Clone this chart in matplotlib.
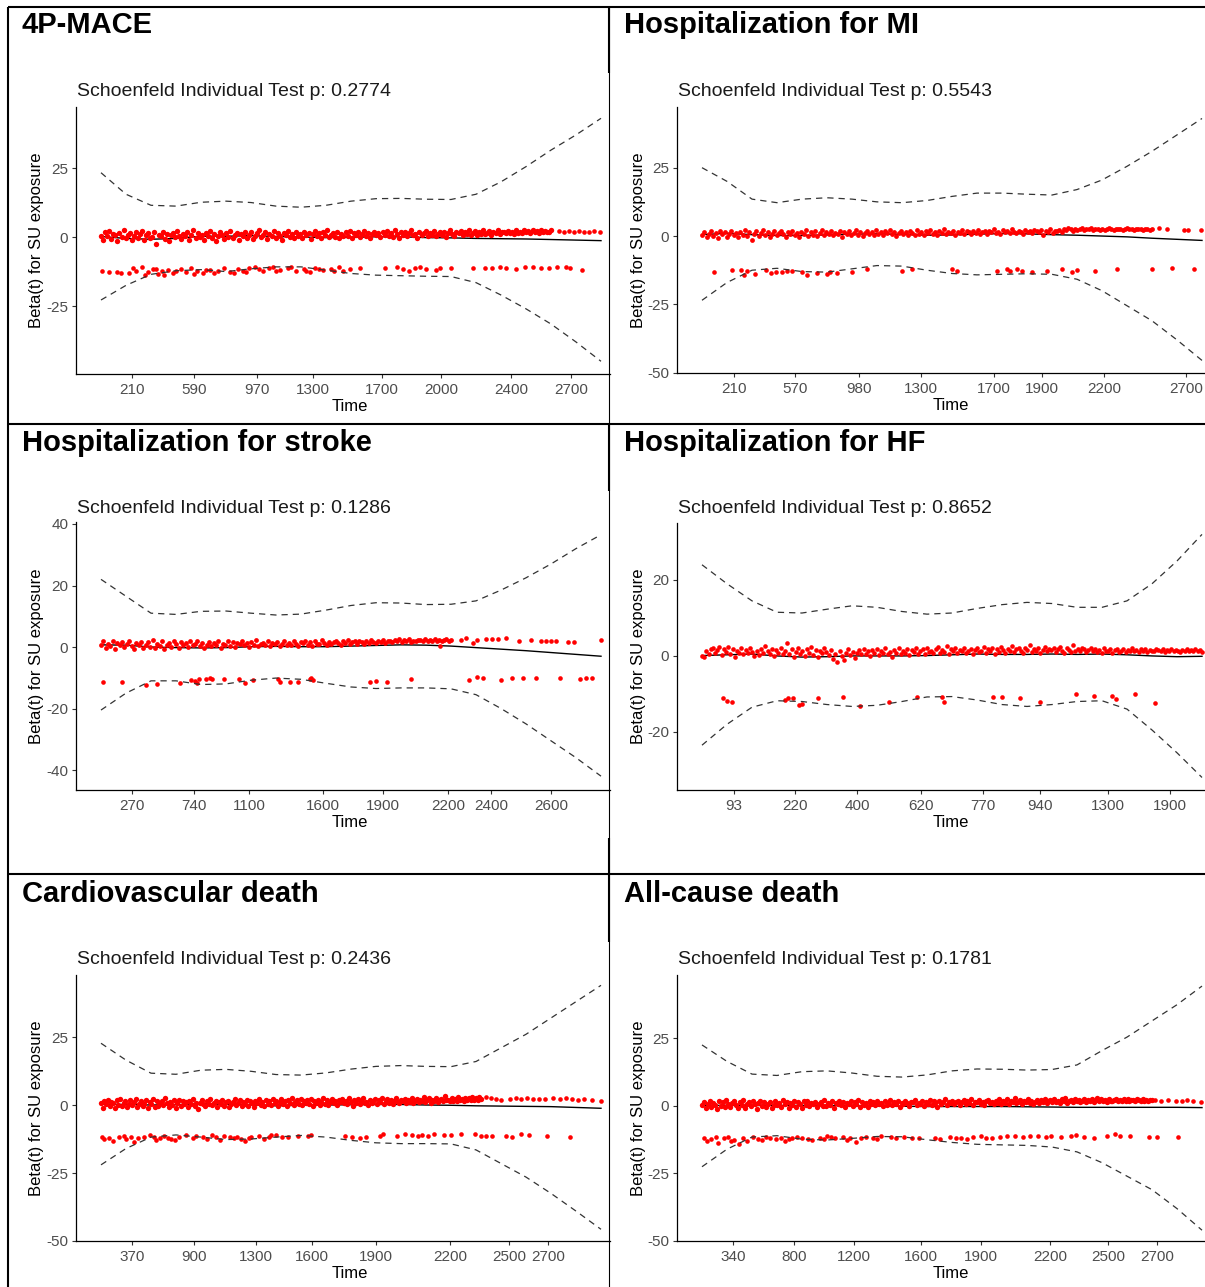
import numpy as np
import matplotlib
matplotlib.use("Agg")
import matplotlib.pyplot as plt

plt.rcParams['font.family'] = ['Liberation Sans', 'DejaVu Sans']
plt.rcParams['axes.unicode_minus'] = False

W, H = 1205, 1287


def vals(s):
    return np.array(s.split(), dtype=float)


# ---------------- data ----------------
titles = ["4P-MACE", "Hospitalization for MI", "Hospitalization for stroke",
          "Hospitalization for HF", "Cardiovascular death", "All-cause death"]
p_values = ["0.2774", "0.5543", "0.1286", "0.8652", "0.2436", "0.1781"]

# transformed time where the spline fit / CI were read (0 = first event, 1 = last)
curve_t = np.linspace(0, 1, 21)

# 4P-MACE
p1_fit = vals("0.2 -0.5 -0.8 -0.5 0.3 0.3 0.5 0.2 0.0 -0.2 -0.1 0.1 0.1 -0.2 -0.3 -0.5 -0.6 -0.7 -0.9 -1.1 -1.3")
p1_hi = vals("23.3 15.5 11.5 11.2 12.6 13.0 12.5 11.2 10.8 11.5 13.0 13.9 14.0 13.7 13.6 15.5 20.0 25.5 31.5 37.0 43.0")
p1_lo = vals("-22.8 -17.5 -13.5 -12.2 -11.8 -12.5 -11.5 -10.8 -10.8 -12.0 -13.2 -13.8 -14.0 -14.2 -14.3 -16.5 -21.0 -26.0 -31.5 -38.0 -45.0")
p1_up = vals("""
0.4 -1.2 1.8 0.2 2.1 -0.6 1.1 0.9 -1.5 1.6 0.0 2.4 -0.3 0.8 1.3 -0.9 0.5 1.9 -0.2 1.0
2.2 -1.0 0.6 1.4 -0.4 0.1 1.7 -2.5 0.9 0.3 2.0 -0.7 1.2 -1.3 0.7 1.5 -0.1 2.3 0.4 -0.8
1.1 0.2 1.8 -1.1 0.6 2.5 -0.5 1.3 0.0 0.9 -0.9 1.6 0.3 2.1 -0.3 1.0 -1.4 0.5 1.9 0.8
-0.6 1.4 0.1 2.2 -0.2 0.7 1.5 -1.0 1.2 0.4 2.0 -0.4 0.9 1.7 -0.8 0.2 1.3 2.4 -0.1 0.6
1.8 -0.7 1.0 0.3 2.1 -0.3 1.4 0.5 -1.2 1.6 0.8 2.3 0.0 1.1 -0.5 1.9 0.4 1.2 -0.2 2.0
0.7 1.5 -0.6 1.0 2.2 0.2 1.3 -0.4 1.8 0.6 2.5 -0.1 0.9 1.6 0.1 2.0 -0.3 1.2 0.5 1.7
0.3 2.1 -0.5 1.4 0.8 1.9 0.0 1.1 2.3 0.4 1.6 -0.2 1.0 2.0 0.6 1.3 -0.1 1.8 0.9 2.2
0.5 1.5 0.1 2.4 1.0 -0.3 1.7 0.7 2.0 0.2 1.3 2.6 0.8 1.1 -0.2 1.9 0.6 1.4 2.1 0.4
1.6 0.9 2.3 0.3 1.2 2.0 0.7 1.8 0.1 1.5 2.5 1.0 0.5 1.9 1.3 2.2 0.6 1.7 1.1 2.4
0.8 1.4 2.1 0.9 1.8 1.2 2.6 1.0 1.6 2.2 0.7 1.9 1.3 2.4 1.1 1.7 2.0 1.4 2.3 1.6
1.9 1.2 2.5 1.5 2.0 1.3 2.7 1.7 2.1 1.4 2.4 1.8 2.2 1.6 2.6 1.9 2.3 1.7 2.0 2.4
""")
p1_up_end = 0.9
p1_tail_t = vals("0.915 0.925 0.935 0.945 0.955 0.965 0.975 0.985 0.998")
p1_tail_y = vals("2.1 1.8 2.2 1.9 2.3 2.0 1.7 2.1 1.9")
p1_low_t = vals("""
0.002 0.016 0.031 0.055 0.063 0.07 0.082 0.094 0.103 0.113 0.121 0.133 0.144 0.16 0.17 0.179
0.191 0.203 0.218 0.234 0.245 0.257 0.273 0.284 0.296 0.308 0.323 0.335 0.343 0.358 0.374 0.389
0.405 0.417 0.428 0.444 0.459 0.475 0.483 0.498 0.518 0.568 0.592 0.603 0.615 0.627 0.638 0.65
0.669 0.677 0.7 0.743 0.767 0.782 0.798 0.809 0.829 0.848 0.864 0.879 0.895 0.911 0.93 0.938 0.961
0.04 0.088 0.11 0.125 0.15 0.185 0.21 0.226 0.265 0.29 0.315 0.35 0.38 0.41 0.435 0.465
""")
p1_low_y = vals("""
-12.2 -12.6 -12.6 -13.2 -11.3 -12.2 -10.8 -12.6 -11.7 -13.4 -12.2 -12.0 -13.2 -11.7 -12.6 -11.3
-12.2 -12.9 -12.0 -12.2 -11.3 -12.6 -11.7 -12.2 -11.3 -10.8 -12.2 -11.3 -10.8 -12.0 -11.3 -12.2
-11.7 -12.6 -11.3 -12.0 -11.7 -11.0 -12.2 -11.7 -11.3 -11.3 -10.8 -11.7 -12.2 -11.3 -10.8 -11.7
-12.0 -11.1 -11.3 -11.1 -11.3 -11.1 -11.0 -11.1 -11.7 -10.8 -11.0 -11.3 -11.1 -11.0 -10.8 -11.3 -12.0
-13.0 -13.8 -11.5 -13.9 -12.4 -13.5 -11.8 -13.0 -12.9 -12.5 -11.6 -12.4 -11.0 -12.3 -11.5 -12.4
""")
p1_ticks = vals("0.062 0.186 0.312 0.424 0.562 0.68 0.82 0.94")
p1_labels = ["210", "590", "970", "1300", "1700", "2000", "2400", "2700"]

# Hospitalization for MI
p2_fit = vals("0.5 1.0 0.5 0.2 0.2 0.4 0.7 0.8 0.6 0.3 0.4 0.7 0.9 0.8 0.5 0.3 0.0 -0.3 -0.8 -1.2 -1.6")
p2_hi = vals("25.0 20.0 13.5 12.2 13.5 14.0 13.5 12.5 12.2 13.0 14.5 15.7 15.7 15.3 15.0 17.0 20.5 25.5 31.0 37.0 43.0")
p2_lo = vals("-23.5 -17.0 -12.5 -11.8 -13.0 -13.2 -12.0 -10.8 -11.0 -12.5 -13.7 -14.2 -14.0 -13.8 -14.0 -15.8 -20.0 -25.5 -31.0 -38.0 -45.5")
p2_up = vals("""
0.2 1.5 -0.4 0.9 1.8 0.1 1.2 -0.6 2.0 0.6 1.4 -0.2 0.8 1.9 0.3 1.1 -0.5 1.6 0.5 2.1
0.0 1.3 -1.3 0.7 1.7 -0.1 1.0 2.2 0.4 1.5 -0.3 0.9 1.8 0.2 1.2 2.0 0.6 -0.2 1.4 0.8
1.9 0.3 1.1 -0.4 1.6 0.7 2.1 0.1 1.3 0.5 1.8 -0.1 1.0 2.2 0.4 1.5 0.8 1.9 0.2 1.2
0.6 2.0 -0.2 1.4 0.9 1.7 0.3 1.1 2.3 0.5 1.6 0.0 1.2 1.9 0.7 1.4 0.2 2.1 0.9 1.3
0.4 1.8 1.0 2.2 0.6 1.5 0.1 1.2 2.0 0.8 1.6 0.3 1.9 1.1 0.5 2.3 0.9 1.4 0.2 1.7
1.0 2.1 0.6 1.5 0.3 1.8 1.2 2.4 0.7 1.4 1.0 2.0 0.5 1.6 1.2 2.2 0.8 1.9 1.3 0.6
1.7 1.1 2.3 0.9 1.5 2.0 0.7 1.8 1.3 2.5 1.0 1.6 0.8 2.1 1.4 1.9 1.1 2.4 1.5 1.2
2.0 1.6 0.9 2.2 1.4 1.8 1.1 2.3 1.7 1.3 2.1 0.4 1.9 1.5 2.4 1.2 2.0 1.7 2.2 1.4
2.6 2.2 2.8 2.4 2.0 2.7 2.3 2.5 2.9 2.1 2.6 2.4 2.8 2.2 2.5 2.7 2.3 2.6 2.1 2.4
2.8 2.5 2.3 2.7 2.4 2.6 2.2 2.5 2.8 2.4 2.6 2.3 2.5 2.7 2.4 2.2 2.6 2.5 2.3 2.4
""")
p2_up_end = 0.9
p2_tail_t = vals("0.913 0.93 0.963 0.972 0.998")
p2_tail_y = vals("2.9 2.4 2.3 2.3 2.3")
p2_low_t = vals("""
0.024 0.06 0.078 0.084 0.09 0.106 0.128 0.137 0.147 0.16 0.17 0.18 0.20 0.21 0.23 0.25
0.255 0.27 0.30 0.33 0.40 0.42 0.50 0.51 0.59 0.61 0.615 0.63 0.64 0.66 0.69 0.72
0.74 0.75 0.785 0.83 0.90 0.94 0.984
""")
p2_low_y = vals("""
-13.1 -12.5 -12.5 -14.3 -12.7 -14.0 -12.5 -13.7 -13.1 -13.3 -12.7 -12.7 -13.3 -14.3 -13.4 -14.0
-13.3 -13.4 -13.1 -12.2 -12.8 -12.2 -12.0 -12.7 -12.7 -12.2 -12.8 -12.2 -12.7 -13.3 -12.7 -12.2
-13.1 -12.5 -12.7 -12.2 -12.2 -11.8 -12.2
""")
p2_ticks = vals("0.064 0.186 0.314 0.438 0.584 0.68 0.804 0.968")
p2_labels = ["210", "570", "980", "1300", "1700", "1900", "2200", "2700"]

# Hospitalization for stroke
p3_fit = vals("0.7 0.6 0.0 -0.2 -0.3 -0.2 0.1 0.2 0.1 0.1 0.3 0.5 0.7 0.6 0.3 -0.2 -0.7 -1.2 -1.8 -2.4 -3.0")
p3_hi = vals("22.0 16.5 11.0 10.6 11.6 11.7 11.0 10.4 10.7 12.0 13.5 14.4 14.3 13.8 13.9 15.0 18.5 22.5 27.0 32.0 36.5")
p3_lo = vals("-20.5 -15.0 -11.0 -11.0 -12.2 -12.0 -10.8 -10.1 -10.5 -11.8 -13.0 -13.5 -13.3 -13.3 -13.6 -15.5 -20.0 -25.0 -30.5 -36.0 -42.0")
p3_up = vals("""
0.5 1.8 -0.3 1.0 0.2 2.0 -0.7 1.3 0.7 1.6 -0.1 0.9 2.1 0.3 -0.6 1.2 0.6 1.7 -0.4 0.8
1.5 0.1 2.2 -0.2 1.1 0.4 1.9 -0.5 0.7 1.4 0.0 2.0 0.9 -0.3 1.6 0.5 1.2 -0.1 1.8 0.6
1.0 2.1 0.2 1.4 -0.4 0.8 1.7 0.3 1.2 0.6 1.9 -0.2 1.1 0.7 2.0 0.4 1.5 0.1 1.3 0.9
1.8 0.5 1.2 0.0 1.6 0.8 2.2 0.3 1.0 1.4 0.6 1.9 0.2 1.3 0.9 1.7 0.4 1.1 2.0 0.7
1.4 0.6 1.9 1.0 0.3 1.6 1.2 2.1 0.8 1.5 0.4 1.8 1.1 0.9 2.2 1.3 0.7 1.7 1.0 1.5
2.0 1.2 0.8 1.8 1.4 2.3 1.0 1.6 1.9 1.1 2.1 1.5 0.9 1.8 1.3 2.2 1.6 1.2 2.0 1.7
2.4 1.4 2.1 1.8 1.5 2.3 1.9 2.6 1.7 2.2 2.0 2.5 1.6 2.1 1.8 2.4 2.2 1.9 2.5 2.0
2.3 1.8 2.6 2.1 2.4 1.9 2.2 2.7 2.0 2.3
""")
p3_up_end = 0.70
p3_tail_t = vals("0.677 0.72 0.73 0.743 0.751 0.77 0.782 0.794 0.81 0.836 0.86 0.88 0.89 0.90 0.91 0.934 0.946 1.0")
p3_tail_y = vals("0.4 2.3 2.8 1.4 2.3 2.5 2.5 2.5 2.8 1.8 2.3 1.8 1.8 1.8 1.8 1.5 1.7 2.3")
p3_low_t = vals("""
0.004 0.041 0.09 0.111 0.157 0.179 0.187 0.191 0.195 0.21 0.218 0.222 0.245 0.276 0.288 0.304
0.354 0.358 0.378 0.393 0.417 0.42 0.424 0.537 0.549 0.572 0.619 0.735 0.751 0.763 0.8 0.821
0.844 0.87 0.918 0.957 0.969 0.981
""")
p3_low_y = vals("""
-11.5 -11.5 -12.4 -12.1 -11.8 -10.7 -11.0 -11.8 -10.5 -10.5 -10.2 -10.5 -10.5 -10.5 -11.8 -10.7
-10.5 -11.3 -11.3 -11.5 -10.5 -10.2 -10.7 -11.3 -11.0 -11.4 -10.4 -10.7 -9.7 -10.0 -10.7 -10.2
-10.2 -10.2 -10.0 -10.5 -10.0 -10.0
""")
p3_ticks = vals("0.062 0.186 0.296 0.444 0.564 0.694 0.78 0.9")
p3_labels = ["270", "740", "1100", "1600", "1900", "2200", "2400", "2600"]

# Hospitalization for HF
p4_fit = vals("0.1 0.3 0.5 0.0 -0.3 -0.2 0.0 0.0 0.0 0.1 0.3 0.5 0.4 0.4 0.5 0.4 0.5 0.3 0.0 -0.2 -0.1")
p4_hi = vals("24.0 19.0 14.5 11.5 11.3 12.3 13.2 12.8 11.7 11.0 11.3 12.5 13.5 14.1 13.8 12.8 12.8 14.5 19.0 25.0 32.0")
p4_lo = vals("-23.5 -18.0 -13.5 -11.8 -12.0 -12.8 -13.3 -13.0 -12.0 -10.8 -10.7 -11.6 -12.8 -13.3 -12.8 -12.0 -11.8 -14.0 -19.5 -25.5 -32.0")
p4_up = vals("""
0.0 -0.3 1.2 0.5 1.8 2.0 0.8 1.5 2.3 0.2 1.9 1.1 2.4 0.6 1.7 -0.2 1.3 0.9 2.1 0.4
1.6 0.7 2.2 1.0 -0.1 1.4 0.3 1.8 0.8 2.5 1.2 0.5 1.9 0.1 1.5 0.9 2.0 0.6 1.3 3.3
0.4 1.7 -0.2 1.1 2.1 0.6 1.4 0.0 1.8 0.9 2.3 0.3 1.6 -0.4 1.2 0.7 2.0 1.0 0.2 1.5
-0.8 0.5 -1.5 1.3 0.1 -1.0 0.9 1.7 0.3 1.1 -0.6 0.8 1.6 0.4 1.9 0.6 1.2 0.0 1.5 0.9
1.8 0.3 1.4 0.7 2.0 0.5 1.1 -0.2 1.6 0.9 2.2 0.4 1.3 0.8 1.9 0.2 1.5 1.0 2.1 0.6
1.2 1.7 0.5 2.0 1.0 1.4 0.7 1.8 2.3 0.9 1.5 1.1 2.5 0.6 1.7 1.3 2.0 0.8 1.6 1.2
2.2 0.9 1.4 1.9 0.4 1.6 2.1 1.0 1.3 2.4 0.8 1.7 1.2 2.0 0.5 1.8 1.1 2.3 1.5 0.9
1.9 1.4 2.6 1.0 1.7 2.2 1.3 0.7 2.0 1.5 2.8 1.1 1.8 1.4 2.1 0.9 1.6 2.3 1.2 1.9
1.5 2.1 1.0 1.7 2.4 1.3 0.8 2.0 1.6 1.1 3.0 1.4 1.9 1.2 2.2 1.7 1.0 1.5 2.0 1.3
1.8 1.1 1.6 0.9 2.1 1.4 1.2 1.7 0.8 1.5 1.9 1.0 1.3 1.8 1.1 1.6 1.4 2.0 1.2 1.5
1.0 1.7 1.3 1.9 1.1 1.6 1.4 1.2 1.8 1.5 1.3 1.7 1.0 1.6 1.4 1.9 1.2 1.5 1.3 1.0
1.6 1.4 1.8 1.2 1.5 1.3 1.7 1.4 1.6 1.1
""")
p4_up_end = 1.0
p4_tail_t = vals("")
p4_tail_y = vals("")
p4_low_t = vals("""
0.042 0.05 0.059 0.166 0.172 0.181 0.193 0.2 0.231 0.281 0.315 0.373 0.43 0.48 0.484 0.582
0.599 0.635 0.675 0.747 0.783 0.819 0.827 0.865 0.905
""")
p4_low_y = vals("""
-11.1 -11.8 -12.2 -11.6 -11.0 -11.0 -12.9 -12.6 -11.1 -10.7 -13.1 -12.2 -10.7 -10.7 -12.2 -10.7
-10.7 -11.1 -12.0 -10.0 -10.5 -10.5 -11.4 -10.1 -12.3
""")
p4_ticks = vals("0.064 0.186 0.31 0.438 0.562 0.676 0.812 0.936")
p4_labels = ["93", "220", "400", "620", "770", "940", "1300", "1900"]

# Cardiovascular death
p5_fit = vals("0.3 0.2 0.0 0.1 0.5 0.2 0.0 -0.3 -0.1 0.0 0.1 0.2 0.2 0.0 -0.1 -0.3 -0.4 -0.5 -0.6 -0.9 -1.2")
p5_hi = vals("22.7 16.5 11.7 11.3 12.8 13.1 12.4 11.2 11.0 11.8 13.2 14.2 14.5 14.2 14.1 16.0 21.0 26.0 32.0 38.0 44.0")
p5_lo = vals("-22.0 -16.0 -11.8 -11.0 -11.8 -12.7 -12.5 -11.8 -11.2 -11.8 -13.0 -13.9 -14.2 -14.2 -14.3 -16.5 -21.5 -26.5 -32.5 -39.0 -45.7")
p5_up = vals("""
0.6 -1.0 1.5 0.2 2.0 -0.5 1.1 0.8 -1.2 1.7 0.1 2.3 -0.3 0.9 1.4 -0.8 0.4 1.8 -0.1 1.2
2.1 -0.7 0.5 1.6 -0.4 0.3 1.9 -1.1 1.0 0.2 2.2 -0.6 1.3 -0.2 0.7 1.5 0.0 2.4 0.6 -0.9
1.2 0.1 1.7 -1.0 0.8 2.0 -0.3 1.4 0.3 1.0 -0.7 1.6 0.5 2.2 -0.2 0.9 -1.3 0.6 1.8 0.4
-0.5 1.3 0.2 2.1 -0.1 0.8 1.6 -0.8 1.1 0.5 1.9 -0.4 1.0 1.5 -0.6 0.3 1.2 2.3 0.0 0.7
1.7 -0.5 1.1 0.4 2.0 -0.2 1.3 0.6 -0.9 1.5 0.9 2.2 0.1 1.2 -0.3 1.8 0.5 1.4 0.0 2.1
0.8 1.6 -0.4 1.1 2.3 0.3 1.4 -0.2 1.9 0.7 2.4 0.0 1.0 1.7 0.2 2.1 -0.1 1.3 0.6 1.8
0.4 2.2 -0.3 1.5 0.9 2.0 0.1 1.2 2.5 0.5 1.7 -0.1 1.1 2.1 0.7 1.4 0.0 1.9 1.0 2.3
0.6 1.6 0.2 2.5 1.1 -0.2 1.8 0.8 2.1 0.3 1.4 2.7 0.9 1.2 0.0 2.0 0.7 1.5 2.2 0.5
1.7 1.0 2.4 0.4 1.3 2.1 0.8 1.9 0.2 1.6 2.6 1.1 0.6 2.0 1.4 2.3 0.7 1.8 1.2 2.5
0.9 1.5 2.2 1.0 1.9 1.3 2.8 1.1 1.7 2.4 0.8 2.0 1.4 2.6 1.2 1.8 2.1 1.5 3.2 1.7
2.0 1.3 2.7 1.6 2.2 1.4 2.9 1.8 2.3 1.5 2.6 1.9 2.4 1.7 2.8 2.0 2.5 1.8 3.0 2.2
""")
p5_up_end = 0.76
p5_tail_t = vals("0.77 0.78 0.79 0.80 0.817 0.829 0.84 0.852 0.864 0.875 0.887 0.903 0.918 0.93 0.942 0.953 0.965 0.981 1.0")
p5_tail_y = vals("3.1 2.7 2.1 1.8 2.2 2.5 2.3 2.6 2.3 2.1 2.2 2.5 2.1 2.6 2.1 1.8 2.1 1.8 1.6")
p5_low_t = vals("""
0.002 0.006 0.024 0.035 0.045 0.059 0.066 0.074 0.097 0.105 0.117 0.125 0.14 0.156 0.17 0.183
0.203 0.222 0.23 0.245 0.257 0.265 0.28 0.288 0.3 0.316 0.335 0.35 0.362 0.374 0.393 0.413
0.42 0.487 0.502 0.518 0.529 0.557 0.564 0.592 0.607 0.622 0.634 0.642 0.654 0.665 0.685 0.7
0.72 0.747 0.759 0.77 0.782 0.809 0.821 0.84 0.856 0.891 0.938
0.015 0.05 0.085 0.11 0.133 0.148 0.19 0.212 0.238 0.272 0.295 0.325 0.34
""")
p5_low_y = vals("""
-11.6 -12.6 -13.1 -11.6 -11.4 -11.6 -13.5 -12.3 -11.0 -11.6 -12.3 -11.3 -12.6 -11.6 -11.0 -12.0
-11.6 -11.0 -11.9 -11.3 -11.6 -12.3 -12.6 -13.1 -11.6 -11.3 -11.6 -11.0 -11.6 -11.6 -11.3 -11.3
-11.0 -11.3 -11.6 -12.0 -11.6 -11.3 -10.7 -11.3 -10.7 -11.0 -11.3 -11.0 -11.3 -10.7 -11.0 -11.0
-10.8 -10.7 -11.3 -11.3 -11.3 -11.3 -11.6 -10.8 -11.0 -11.3 -11.6
-12.0 -12.4 -11.9 -13.0 -12.0 -12.9 -11.4 -12.4 -12.8 -11.8 -12.2 -12.4 -11.2
""")
p5_ticks = vals("0.062 0.186 0.31 0.422 0.55 0.698 0.816 0.894")
p5_labels = ["370", "900", "1300", "1600", "1900", "2200", "2500", "2700"]

# All-cause death
p6_fit = vals("0.2 0.2 0.2 0.2 0.2 0.2 0.1 0.0 -0.1 -0.2 -0.2 -0.2 -0.2 -0.3 -0.4 -0.5 -0.5 -0.5 -0.5 -0.5 -0.6")
p6_hi = vals("22.6 16.5 11.8 11.3 12.7 13.0 12.2 11.0 10.7 11.5 13.0 13.7 13.6 13.3 13.5 15.2 20.5 25.5 31.5 37.5 44.4")
p6_lo = vals("-22.5 -16.0 -11.5 -11.0 -12.3 -12.6 -12.0 -11.3 -11.4 -12.5 -13.5 -14.2 -14.4 -14.6 -15.2 -17.0 -21.0 -26.0 -31.0 -38.0 -46.0")
p6_up = vals("""
0.3 1.6 -0.8 0.9 2.0 -0.2 1.2 0.5 -1.1 1.8 0.0 1.4 -0.5 2.1 0.7 -0.3 1.1 1.7 0.2 -0.9
1.5 0.4 2.2 -0.6 0.8 1.3 -0.1 1.9 0.6 -1.2 1.0 2.0 0.1 1.6 -0.4 0.9 1.4 -0.7 0.5 1.8
0.2 1.2 -0.3 2.1 0.7 1.5 -0.9 1.0 0.4 1.9 -0.2 1.3 0.8 -0.6 1.7 0.3 2.0 0.0 1.1 0.6
1.6 -0.4 0.9 1.4 0.1 2.2 -0.1 1.0 0.5 1.8 -0.8 1.2 0.7 2.0 0.2 1.5 -0.3 1.1 0.6 1.9
0.0 1.3 0.8 2.1 -0.2 1.6 0.4 1.0 -0.5 1.8 0.9 1.4 0.2 2.0 0.6 1.2 -0.1 1.7 0.5 1.1
2.2 0.3 1.5 0.8 1.9 -0.3 1.2 0.6 2.0 1.0 0.1 1.6 1.3 2.3 0.4 1.1 0.7 1.8 0.0 1.4
0.9 2.1 0.5 1.7 1.2 -0.2 1.9 0.8 1.4 2.4 0.3 1.6 1.0 2.0 0.6 1.3 1.8 0.2 1.5 2.2
0.7 1.9 1.1 2.5 0.4 1.6 1.3 2.1 0.9 1.4 0.2 1.8 2.3 1.0 1.5 0.6 2.0 1.2 2.6 0.8
1.7 1.1 2.4 0.7 1.9 1.4 2.8 1.0 1.6 2.2 0.9 1.8 1.3 2.5 1.1 2.0 0.8 1.5 2.3 1.2
2.1 1.4 2.7 1.0 1.8 2.3 1.3 2.6 1.6 2.0 1.1 2.4 1.7 2.9 1.2 1.9 2.2 1.5 2.6 1.8
2.3 1.6 2.0 2.7 1.4 2.2 1.8 2.5 1.5 2.1 2.8 1.7 2.4 1.9 2.2 1.6 2.6 2.0 1.8 2.3
2.5 1.9 2.2 1.7 2.6 2.0 2.4 1.8 2.3 2.1 1.9 2.5 2.2 1.8 2.4 2.0 2.3 1.9 2.1 2.2
""")
p6_up_end = 0.9
p6_tail_t = vals("0.905 0.917 0.932 0.947 0.959 0.97 0.982 0.997")
p6_tail_y = vals("2.2 1.9 2.2 1.8 1.8 2.2 1.9 1.3")
p6_low_t = vals("""
0.004 0.009 0.028 0.032 0.043 0.051 0.063 0.073 0.082 0.101 0.112 0.127 0.135 0.147 0.158 0.174
0.189 0.2 0.212 0.235 0.25 0.266 0.281 0.296 0.308 0.327 0.342 0.358 0.377 0.388 0.404 0.419
0.434 0.465 0.476 0.495 0.507 0.518 0.53 0.541 0.557 0.568 0.58 0.595 0.61 0.626 0.641 0.656
0.672 0.687 0.698 0.718 0.737 0.748 0.763 0.783 0.809 0.825 0.836 0.855 0.894 0.909 0.951
0.018 0.058 0.09 0.12 0.165 0.18 0.22 0.243 0.258 0.29 0.318 0.35
""")
p6_low_y = vals("""
-12.0 -12.8 -11.4 -13.6 -12.0 -11.4 -12.6 -14.1 -11.7 -11.4 -12.3 -11.4 -12.0 -12.3 -11.7 -12.3
-11.4 -11.7 -12.3 -11.7 -11.0 -12.0 -11.4 -12.0 -13.2 -11.4 -11.7 -11.0 -11.4 -11.7 -11.4 -11.7
-12.0 -11.7 -12.3 -11.4 -11.7 -12.0 -12.3 -11.4 -11.0 -11.7 -12.0 -11.4 -11.0 -11.1 -11.4 -11.0
-11.0 -11.4 -11.0 -11.4 -11.0 -10.7 -11.4 -11.7 -11.0 -10.5 -11.0 -11.0 -11.4 -11.4 -11.4
-12.4 -13.0 -12.9 -12.7 -12.8 -11.9 -12.6 -12.3 -11.6 -12.6 -11.9 -12.2
""")
p6_ticks = vals("0.062 0.184 0.304 0.438 0.558 0.696 0.812 0.91")
p6_labels = ["340", "800", "1200", "1600", "1900", "2200", "2500", "2700"]

panels = [
    (p1_fit, p1_hi, p1_lo, p1_up, p1_up_end, p1_tail_t, p1_tail_y, p1_low_t, p1_low_y, p1_ticks, p1_labels),
    (p2_fit, p2_hi, p2_lo, p2_up, p2_up_end, p2_tail_t, p2_tail_y, p2_low_t, p2_low_y, p2_ticks, p2_labels),
    (p3_fit, p3_hi, p3_lo, p3_up, p3_up_end, p3_tail_t, p3_tail_y, p3_low_t, p3_low_y, p3_ticks, p3_labels),
    (p4_fit, p4_hi, p4_lo, p4_up, p4_up_end, p4_tail_t, p4_tail_y, p4_low_t, p4_low_y, p4_ticks, p4_labels),
    (p5_fit, p5_hi, p5_lo, p5_up, p5_up_end, p5_tail_t, p5_tail_y, p5_low_t, p5_low_y, p5_ticks, p5_labels),
    (p6_fit, p6_hi, p6_lo, p6_up, p6_up_end, p6_tail_t, p6_tail_y, p6_low_t, p6_low_y, p6_ticks, p6_labels),
]
y_ticks = [[-25, 0, 25], [-50, -25, 0, 25], [-40, -20, 0, 20, 40],
           [-20, 0, 20], [-50, -25, 0, 25], [-50, -25, 0, 25]]

# ---------------- layout (pixels in the 1205x1287 canvas) ----------------
boxes = [(76, 107, 610, 374), (677, 107, 1205, 373),
         (76, 522, 610, 790), (677, 523, 1205, 790),
         (76, 975, 610, 1241), (677, 975, 1205, 1241)]
ylims = [(-49.6, 47.1), (-50.1, 47.2), (-46.5, 40.65),
         (-35.3, 35.0), (-50.0, 47.8), (-50.0, 48.5)]
title_base = [33, 33, 451, 451, 902, 902]
sub_base = [96, 96, 513, 513, 964, 964]
band_size = [15, 12, 12, 11, 15, 15]


def fx(x):
    return x / W


def fy(y):
    return 1 - y / H


fig = plt.figure(figsize=(W / 100, H / 100), dpi=100)

# table borders
bk = dict(color='black', lw=1.5, solid_capstyle='butt')
fig.add_artist(plt.Line2D([fx(8), fx(1205)], [fy(7), fy(7)], **bk))
fig.add_artist(plt.Line2D([fx(8), fx(1205)], [fy(424), fy(424)], **bk))
fig.add_artist(plt.Line2D([fx(8), fx(1205)], [fy(874), fy(874)], **bk))
fig.add_artist(plt.Line2D([fx(8), fx(8)], [fy(7), fy(1287)], **bk))
fig.add_artist(plt.Line2D([fx(608.5), fx(608.5)], [fy(7), fy(1287)],
                          color='black', lw=0.8))
for y0, y1 in [(7, 73), (424, 491), (838, 942)]:
    fig.add_artist(plt.Line2D([fx(608.5), fx(608.5)], [fy(y0), fy(y1)], **bk))

for i, (fit, hi, lo, up, up_end, tail_t, tail_y, low_t, low_y, ticks, labels) in enumerate(panels):
    l, t, r, b = boxes[i]
    ax = fig.add_axes([fx(l), fy(b), (r - l) / W, (b - t) / H])
    ax.set_facecolor('none')

    # Schoenfeld residuals
    up_t = np.linspace(0, up_end, len(up))
    ax.scatter(up_t, up, s=band_size[i], c='#FF0000', linewidths=0, zorder=3)
    ax.scatter(tail_t, tail_y, s=11, c='#FF0000', linewidths=0, zorder=3)
    ax.scatter(low_t, low_y, s=11, c='#FF0000', linewidths=0, zorder=3)

    # smoothed beta(t) and +/- 2 SE bands
    ax.plot(curve_t, fit, color='black', lw=1.0, zorder=2)
    ax.plot(curve_t, hi, color='#333333', lw=0.9, ls=(0, (5, 4)), zorder=4)
    ax.plot(curve_t, lo, color='#333333', lw=0.9, ls=(0, (5, 4)), zorder=4)

    ax.set_xlim(-0.05, (r - (l + 25)) / 500)
    ax.set_ylim(*ylims[i])
    ax.set_xticks(ticks)
    ax.set_xticklabels(labels)
    ax.set_yticks(y_ticks[i])
    for s in ['top', 'right']:
        ax.spines[s].set_visible(False)
    for s in ['left', 'bottom']:
        ax.spines[s].set_linewidth(0.9)
        ax.spines[s].set_color('black')
    ax.tick_params(axis='both', length=3, width=0.8, color='#333333',
                   labelsize=11, labelcolor='#4D4D4D')
    ax.tick_params(axis='y', pad=2.5)
    ax.tick_params(axis='x', pad=3.5)

    # texts
    tx = 22 if l < 600 else 624
    fig.text(fx(tx), fy(title_base[i]), titles[i], fontsize=21,
             fontweight='bold', va='baseline', ha='left')
    fig.text(fx(l + 1), fy(sub_base[i]),
             "Schoenfeld Individual Test p: " + p_values[i],
             fontsize=14, va='baseline', ha='left', color='#1A1A1A')
    fig.text(fx(l + 274), fy(b + 37), "Time", fontsize=12,
             va='baseline', ha='center')
    fig.text(fx(l - 39), fy((t + b) / 2), "Beta(t) for SU exposure",
             fontsize=12, rotation=90, va='center', ha='center')

fig.savefig("out.png", dpi=100)
